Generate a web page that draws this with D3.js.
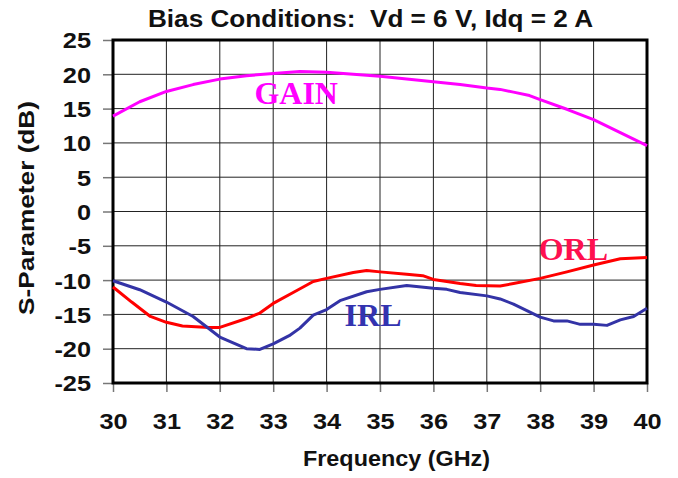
<!DOCTYPE html>
<html>
<head>
<meta charset="utf-8">
<script src="https://cdn.jsdelivr.net/npm/d3@7"></script>
<style>
  body { margin: 0; background: #fff; }
  text { font-family: Arial, "Liberation Sans", sans-serif; font-weight: bold; }
</style>
</head>
<body>
<svg id="chart"></svg>
<script>
const WIDTH = 678;
const HEIGHT = 478;

const MARGIN = { top: 40, right: 31, bottom: 95, left: 113 };

// data
const gainFreq = [30, 30.5, 31, 31.5, 32, 32.5, 33, 33.5, 34, 34.5, 35, 35.5, 36, 36.5, 37, 37.25, 37.5, 37.8, 38, 38.5, 39, 39.5, 40];
const gainDb = [13.9, 16.0, 17.5, 18.5, 19.3, 19.8, 20.1, 20.4, 20.3, 20.0, 19.7, 19.3, 18.9, 18.5, 18.0, 17.8, 17.4, 16.9, 16.3, 14.9, 13.4, 11.5, 9.6];

const orlFreq = [30, 30.35, 30.7, 31, 31.3, 31.8, 32, 32.5, 32.75, 33, 33.4, 33.75, 34, 34.5, 34.75, 35, 35.5, 35.8, 36, 36.5, 36.8, 37.25, 37.5, 38, 38.5, 39, 39.5, 40];
const orlDb = [-11.0, -13.2, -15.3, -16.15, -16.7, -16.9, -16.9, -15.6, -14.8, -13.4, -11.7, -10.2, -9.75, -8.9, -8.6, -8.8, -9.15, -9.35, -9.9, -10.5, -10.8, -10.85, -10.5, -9.75, -8.8, -7.8, -6.9, -6.7];

const irlFreq = [30, 30.5, 31, 31.5, 32, 32.5, 32.75, 33, 33.3, 33.5, 33.75, 34, 34.25, 34.75, 35, 35.5, 36, 36.25, 36.5, 37, 37.25, 37.5, 38, 38.25, 38.5, 38.75, 39, 39.25, 39.5, 39.75, 40];
const irlDb = [-10.1, -11.4, -13.2, -15.3, -18.3, -20.0, -20.1, -19.3, -18.1, -17.0, -15.1, -14.3, -13.0, -11.7, -11.35, -10.8, -11.2, -11.35, -11.8, -12.3, -12.75, -13.5, -15.4, -15.95, -15.95, -16.45, -16.45, -16.6, -15.8, -15.3, -14.1];

const xTicks = d3.range(30, 41, 1);
const yTicks = d3.range(-25, 26, 5);

const titleText = "Bias Conditions:  Vd = 6 V, Idq = 2 A";

const STRETCH = 1.15; // the reference text is a bit wider than plain Arial

function stretch(sel, k){
    sel.each(function(){
        var len = this.getComputedTextLength();
        d3.select(this).attr("textLength", len * k).attr("lengthAdjust", "spacingAndGlyphs");
    });
}

function main(){
    var svg = d3.select("#chart")
        .attr("width", WIDTH)
        .attr("height", HEIGHT);

    var w = WIDTH - MARGIN.left - MARGIN.right;
    var h = HEIGHT - MARGIN.top - MARGIN.bottom;

    var x = d3.scaleLinear().domain([30, 40]).range([0, w]);
    var y = d3.scaleLinear().domain([-25, 25]).range([h, 0]);

    var g = svg.append("g")
        .attr("transform", "translate(" + MARGIN.left + "," + MARGIN.top + ")");

    // grid
    g.append("g").selectAll("line")
        .data(xTicks).enter().append("line")
        .attr("x1", d=>x(d)).attr("x2", d=>x(d))
        .attr("y1", 0).attr("y2", h)
        .attr("stroke", "#222").attr("stroke-width", 1);
    g.append("g").selectAll("line")
        .data(yTicks).enter().append("line")
        .attr("x1", 0).attr("x2", w)
        .attr("y1", d=>y(d)).attr("y2", d=>y(d))
        .attr("stroke", "#222").attr("stroke-width", 1);

    // axes (plain hyphen for negatives, like the original)
    var xAxis = g.append("g")
        .attr("transform", "translate(0," + h + ")")
        .call(d3.axisBottom(x).tickValues(xTicks).tickSize(9).tickPadding(21).tickFormat(d=>String(d)));
    var yAxis = g.append("g")
        .call(d3.axisLeft(y).tickValues(yTicks).tickSize(10).tickPadding(12).tickFormat(d=>String(d)));
    [xAxis, yAxis].forEach(a=>{
        a.select(".domain").remove();
        a.selectAll(".tick line").attr("stroke", "#777").attr("stroke-width", 1.5);
        a.selectAll("text").attr("font-size", 22).attr("fill", "#111")
            .style("font-family", "Arial, 'Liberation Sans', sans-serif").style("font-weight", "bold")
            .call(stretch, STRETCH);
    });
    yAxis.selectAll("text").attr("dy", "0.36em");

    // frame
    g.append("rect")
        .attr("x", 0).attr("y", 0).attr("width", w).attr("height", h)
        .attr("fill", "none").attr("stroke", "#000").attr("stroke-width", 3);

    var line = d3.line().x(d=>x(d[0])).y(d=>y(d[1]));

    var series = [
        { f: gainFreq, v: gainDb, color: "#ff00ff" },
        { f: orlFreq, v: orlDb, color: "#ff0000" },
        { f: irlFreq, v: irlDb, color: "#3333a6" }
    ];
    series.forEach(s=>{
        g.append("path")
            .datum(d3.zip(s.f, s.v))
            .attr("d", line)
            .attr("fill", "none")
            .attr("stroke", s.color)
            .attr("stroke-width", 3)
            .attr("stroke-linejoin", "round");
    });

    // curve labels
    var labels = [
        { t: "GAIN", f: 33.43, v: 15.67, color: "#ff00ff" },
        { t: "ORL", f: 38.62, v: -7.07, color: "#ff1050" },
        { t: "IRL", f: 34.87, v: -16.69, color: "#3333b0" }
    ];
    g.selectAll(".lbl").data(labels).enter().append("text")
        .attr("class", "lbl")
        .attr("x", d=>x(d.f)).attr("y", d=>y(d.v))
        .attr("text-anchor", "middle")
        .attr("fill", d=>d.color)
        .attr("font-size", 32)
        .style("font-family", "'Liberation Serif', 'Times New Roman', serif")
        .text(d=>d.t);

    // title and axis titles
    svg.append("text")
        .attr("x", 148).attr("y", 27)
        .attr("font-size", 23)
        .attr("fill", "#111")
        .attr("textLength", 445).attr("lengthAdjust", "spacingAndGlyphs")
        .style("white-space", "pre")
        .text(titleText);

    svg.append("text")
        .attr("x", 303).attr("y", 466)
        .attr("font-size", 22)
        .attr("fill", "#111")
        .attr("textLength", 187).attr("lengthAdjust", "spacingAndGlyphs")
        .text("Frequency (GHz)");

    svg.append("text")
        .attr("transform", "translate(34,208) rotate(-90)")
        .attr("text-anchor", "middle")
        .attr("font-size", 22)
        .attr("fill", "#111")
        .attr("textLength", 214).attr("lengthAdjust", "spacingAndGlyphs")
        .text("S-Parameter (dB)");
}

window.addEventListener("load", main);
</script>
</body>
</html>
